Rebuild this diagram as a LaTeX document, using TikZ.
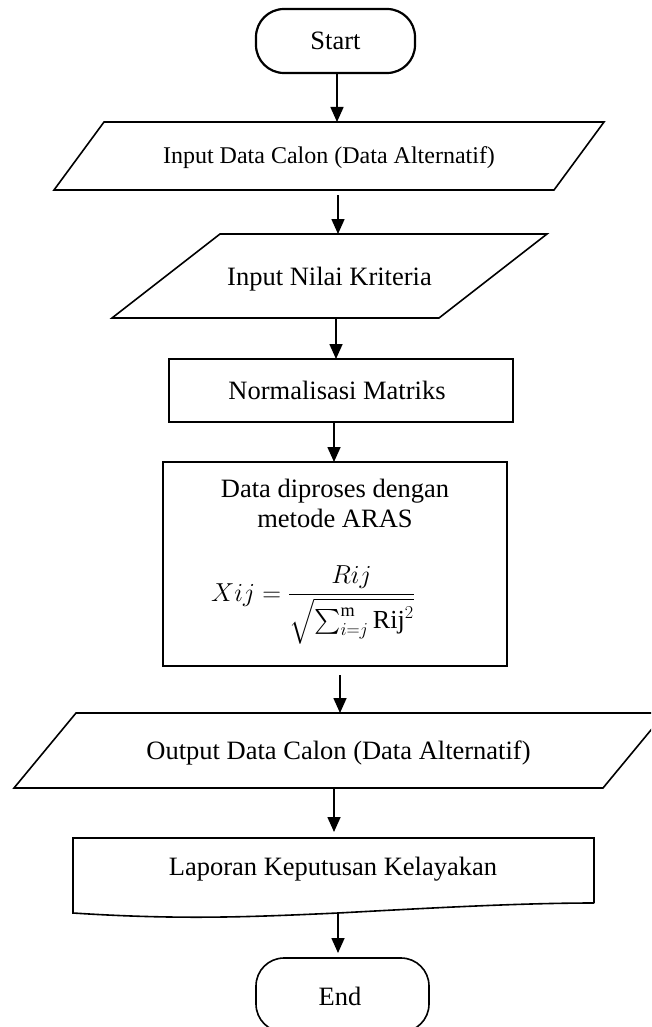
\RequirePackage{fix-cm}
\documentclass[tikz,border=0pt]{standalone}
\usepackage{amsmath}
\usepackage{exscale}
\usepackage{fontspec}
\setmainfont{Liberation Serif}
\usetikzlibrary{arrows.meta,calc}
\begin{document}
\begin{tikzpicture}[x=1pt,y=-1pt,
  box/.style={draw,line width=1.6pt,inner sep=0pt,outer sep=0pt},
  ghost/.style={inner sep=0pt,outer sep=0pt},
  shp/.style={line width=1.6pt,line join=miter},
  lbl/.style={inner sep=0pt,anchor=base,font=\fontsize{26.5}{30}\selectfont},
  arr/.style={line width=1.6pt,-{Triangle[width=13pt,length=15pt]}}]
\useasboundingbox (0,0) rectangle (651,1027);
\clip (0,0) rectangle (651,1027);
\coordinate (axis) at (337,0);

% Start
\node[box,line width=2.2pt,rounded corners=28pt,minimum width=159pt,minimum height=64pt] (start) at (335.5,41) {};
\node[lbl] at (335.5,50) {Start};

% Input Data Calon
\node[ghost,minimum width=550pt,minimum height=68pt] (in1) at (329,156) {};
\draw[shp] ($(in1.north west)+(50,0)$) -- (in1.north east) -- ($(in1.south east)+(-50,0)$) -- (in1.south west) -- cycle;
\node[lbl,font=\fontsize{24}{28}\selectfont] at (329,164) {Input Data Calon (Data Alternatif)};

% Input Nilai Kriteria
\node[ghost,minimum width=435pt,minimum height=84pt] (in2) at (329.5,276) {};
\draw[shp] ($(in2.north west)+(108,0)$) -- (in2.north east) -- ($(in2.south east)+(-108,0)$) -- (in2.south west) -- cycle;
\node[lbl] at (329.5,285) {Input Nilai Kriteria};

% Normalisasi
\node[box,minimum width=344pt,minimum height=63pt] (norm) at (341,390.5) {};
\node[lbl] at (337,399) {Normalisasi Matriks};

% ARAS
\node[box,minimum width=344pt,minimum height=204pt] (aras) at (335,564) {};
\node[lbl] at (335,497) {Data diproses dengan};
\node[lbl] at (335,527) {metode ARAS};
\node[inner sep=0pt,font=\fontsize{26}{30}\selectfont] (eq) at (313,605)
  {$\displaystyle Xij = \frac{Rij}{\sqrt{\textstyle\sum_{i=j}^{\mathrm{m}}\mathrm{Rij}^2}}$};

% Output
\node[ghost,minimum width=651pt,minimum height=75pt] (out) at (339.5,750.5) {};
\draw[shp] ($(out.north west)+(62,0)$) -- (out.north east) -- ($(out.south east)+(-62,0)$) -- (out.south west) -- cycle;
\node[lbl] at (338.5,759) {Output Data Calon (Data Alternatif)};

% Document
\node[ghost,minimum width=521pt,minimum height=65pt] (doc) at (333.5,870.5) {};
\draw[shp] (doc.south east) -- (doc.north east) -- (doc.north west) -- ($(doc.south west)+(0,10)$)
  .. controls (180,920) and (250,917) .. (338,913)
  .. controls (430,908) and (520,903) .. (doc.south east);
\node[lbl] at (333,875) {Laporan Keputusan Kelayakan};

% End
\node[box,rounded corners=28pt,minimum width=173pt,minimum height=74pt] (end) at (342.5,995) {};
\node[lbl] at (340,1005) {End};

% Connectors
\draw[arr] (start.south -| axis) -- (in1.north -| axis);
\draw[arr] ($(in1.south -| axis)+(1,5)$) -- ($(in2.north -| axis)+(1,0)$);
\draw[arr] ($(in2.south -| axis)+(-1,1)$) -- ($(norm.north -| axis)+(-1,0)$);
\draw[arr] ($(norm.south -| axis)+(-3,0)$) -- ($(aras.north -| axis)+(-3,0)$);
\draw[arr] ($(aras.south -| axis)+(3,9)$) -- ($(out.north -| axis)+(3,0)$);
\draw[arr] ($(out.south -| axis)+(-3,0)$) -- ($(doc.north -| axis)+(-3,-6)$);
\draw[arr] ($(doc.south -| axis)+(1,11)$) -- ($(end.north -| axis)+(1,-5)$);
\end{tikzpicture}
\end{document}
